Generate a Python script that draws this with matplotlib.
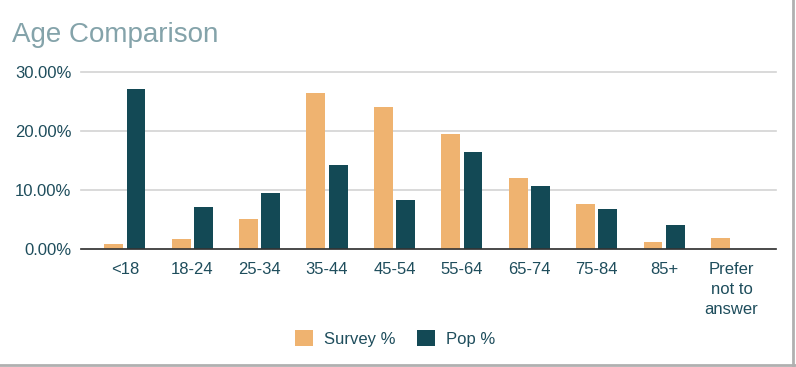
import matplotlib
matplotlib.use("Agg")
import matplotlib.pyplot as plt
import numpy as np
from matplotlib.lines import Line2D

categories = ["<18", "18-24", "25-34", "35-44", "45-54", "55-64", "65-74", "75-84", "85+", "Prefer\nnot to\nanswer"]
survey_pct = [0.85, 1.7, 5.1, 26.4, 24.1, 19.5, 12.1, 7.6, 1.2, 1.9]
pop_pct = [27.1, 7.1, 9.5, 14.2, 8.3, 16.4, 10.7, 6.7, 4.1, 0.0]
yticks = [0, 10, 20, 30]
ytick_labels = ["0.00%", "10.00%", "20.00%", "30.00%"]
series_names = ["Survey %", "Pop %"]

plt.rcParams['font.family'] = ['Liberation Sans', 'DejaVu Sans']
survey_color = "#EFB370"
pop_color = "#134955"
text_color = "#1E4D5C"

fig = plt.figure(figsize=(7.96, 3.67), dpi=100)
ax = fig.add_axes([81/796, 1-249/367, 695/796, (249-72)/367])

x = np.arange(len(categories))
w = 0.28
gap = 0.05
ax.bar(x - (w+gap)/2, survey_pct, width=w, color=survey_color, label=series_names[0], zorder=3)
ax.bar(x + (w+gap)/2, pop_pct, width=w, color=pop_color, label=series_names[1], zorder=3)

ax.set_xlim(-0.65, len(categories)-1+0.66)
ax.set_ylim(0, 30)
ax.set_yticks(yticks)
ax.set_yticklabels(ytick_labels)
ax.set_xticks(x)
ax.set_xticklabels(categories, linespacing=1.45, va="top")
ax.tick_params(axis="both", length=0, labelsize=12, colors=text_color)
ax.tick_params(axis="y", pad=7)
ax.tick_params(axis="x", pad=9)
for s in ["top", "right", "left"]:
    ax.spines[s].set_visible(False)
ax.spines["bottom"].set_color("#333333")
ax.spines["bottom"].set_linewidth(1.2)
ax.spines["bottom"].set_zorder(4)
ax.yaxis.grid(True, color="#d3d3d3", linewidth=1.2, zorder=0)
for gl in ax.get_ygridlines():
    gl.set_clip_on(False)

fig.text(12/796, 1-35/367, "Age Comparison", fontsize=20, color="#84A3AA", va="center", ha="left")

leg = fig.legend(loc="center", bbox_to_anchor=(395/796, 1-338.5/367), ncol=2, frameon=False,
                 fontsize=12, handlelength=1.1, handleheight=1.1, columnspacing=1.25, handletextpad=0.65)
for t in leg.get_texts():
    t.set_color(text_color)

# frame edges
fig.add_artist(Line2D([792.5/796, 792.5/796], [0, 1], color="#b0b0b0", linewidth=2, transform=fig.transFigure))
fig.add_artist(Line2D([0, 1], [1-364.5/367, 1-364.5/367], color="#b0b0b0", linewidth=2, transform=fig.transFigure))

fig.savefig("out.png", dpi=100)
